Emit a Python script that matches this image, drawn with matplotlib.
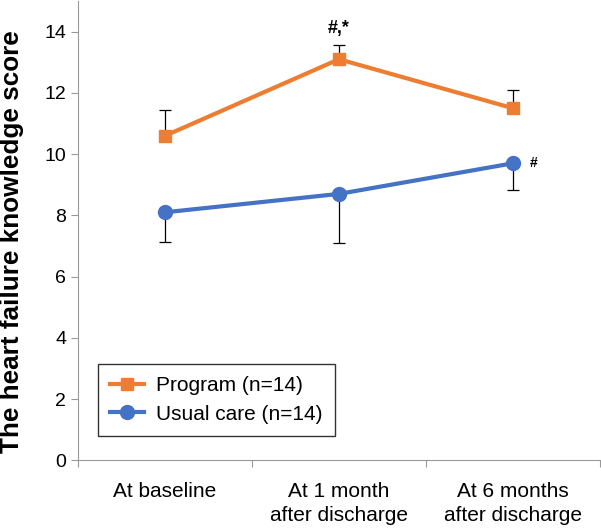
import matplotlib.pyplot as plt

plt.rcParams["font.family"] = ["Liberation Sans", "DejaVu Sans"]

# data
categories = ["At baseline", "At 1 month\nafter discharge", "At 6 months\nafter discharge"]
program = [10.6, 13.1, 11.5]
program_err_up = [0.85, 0.47, 0.6]
usual = [8.1, 8.7, 9.7]
usual_err_down = [0.97, 1.6, 0.87]
y_ticks = [0, 2, 4, 6, 8, 10, 12, 14]

orange = "#ED7D31"
blue = "#4472C4"

fig = plt.figure(figsize=(6.01, 5.29), dpi=100)
ax = fig.add_axes([0.13, 0.13, 0.868, 0.868])

x = [0, 1, 2]

# error bars (one-sided)
ax.errorbar(x, program, yerr=[[0, 0, 0], program_err_up], fmt="none",
            ecolor="black", elinewidth=0.9, capsize=4, capthick=0.9, zorder=1)
ax.errorbar(x, usual, yerr=[usual_err_down, [0, 0, 0]], fmt="none",
            ecolor="black", elinewidth=0.9, capsize=4, capthick=0.9, zorder=1)

ax.plot(x, program, color=orange, lw=3, marker="s", markersize=8,
        label="Program (n=14)", zorder=3)
ax.plot(x, usual, color=blue, lw=3, marker="o", markersize=10,
        label="Usual care (n=14)", zorder=3)

# significance marks
ax.text(1, program[1] + program_err_up[1] + 0.25, "#,*", ha="center", va="bottom",
        fontsize=13, fontweight="bold")
ax.text(2.1, usual[2], "#", ha="left", va="center", fontsize=10, fontweight="bold")

ax.set_xlim(-0.5, 2.5)
ax.set_ylim(0, 15)
ax.set_yticks(y_ticks)
ax.set_xticks([-0.5, 0.5, 1.5, 2.5])
ax.set_xticklabels([])
ax.set_xticks(x, minor=True)
ax.set_xticklabels(categories, minor=True, fontsize=15, linespacing=1.3)
ax.tick_params(axis="x", which="minor", length=0, pad=16)
ax.tick_params(axis="x", which="major", length=5, color="#999999")
ax.tick_params(axis="y", labelsize=14, length=5, color="#999999")

for side in ["top", "right"]:
    ax.spines[side].set_visible(False)
for side in ["left", "bottom"]:
    ax.spines[side].set_color("#999999")

ax.set_ylabel("The heart failure knowledge score", fontsize=18.8, fontweight="bold")
ax.yaxis.set_label_coords(-0.104, 0.477)

leg = ax.legend(loc="lower left", bbox_to_anchor=(0.018, 0.03), fontsize=15,
                frameon=True, fancybox=False, edgecolor="black", borderpad=0.6,
                handlelength=1.6, handletextpad=0.6, labelspacing=0.45)
leg.get_frame().set_linewidth(1.0)

fig.savefig("out.png", dpi=100)
